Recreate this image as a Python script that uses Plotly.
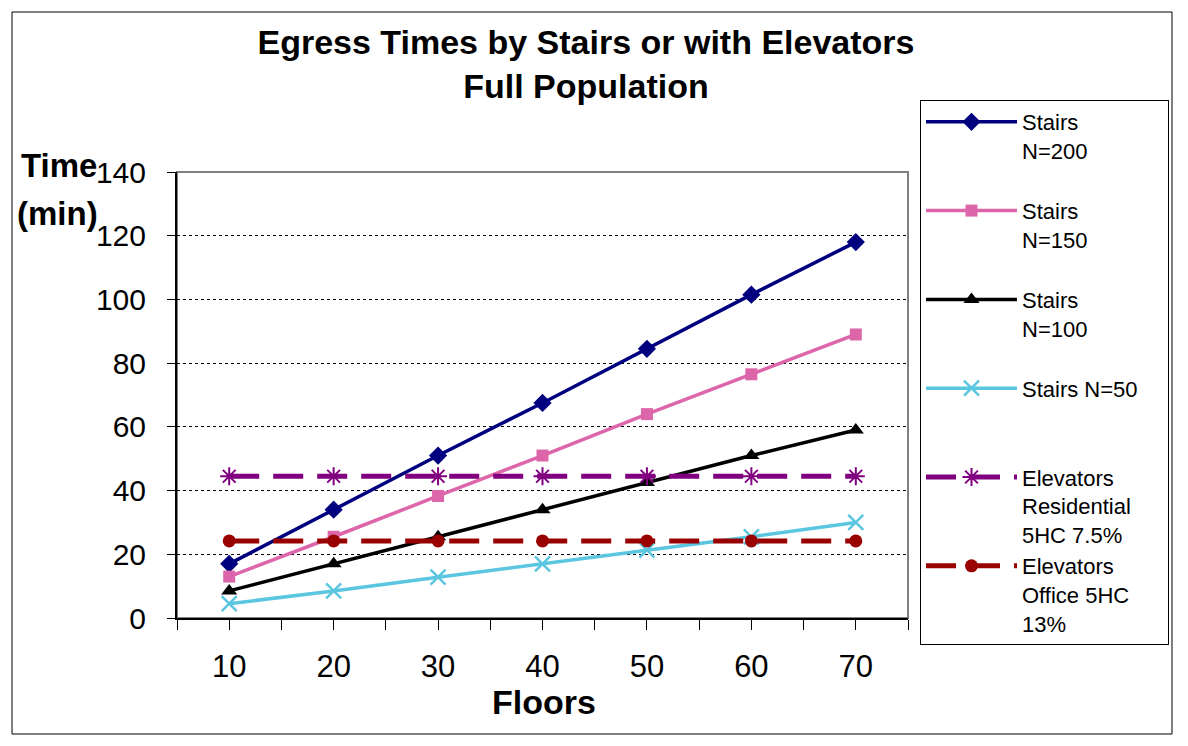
import plotly.graph_objects as go

floors = [10, 20, 30, 40, 50, 60, 70]
stairs_200 = [17, 34, 51, 67.5, 84.5, 101.5, 118]
stairs_150 = [13, 25.5, 38.3, 51, 64, 76.5, 89]
stairs_100 = [8.5, 17, 25.5, 34, 42.5, 51, 59]
stairs_50 = [4.5, 8.5, 12.8, 17, 21.3, 25.5, 30]
elev_res = [44.5, 44.5, 44.5, 44.5, 44.5, 44.5, 44.5]
elev_off = [24.2, 24.2, 24.2, 24.2, 24.2, 24.2, 24.2]
y_ticks = [0, 20, 40, 60, 80, 100, 120, 140]

FONT = "Arial, Liberation Sans, sans-serif"

# page body has an 8px margin; figure is sized/positioned to compensate
W, H = 1180, 738
OFF = 8

series = [
    ("Stairs<br>N=200<br> ", stairs_200, "#00007F", "solid", 3.5, "diamond", 14, None),
    ("Stairs<br>N=150<br> ", stairs_150, "#DD66AA", "solid", 3.5, "square", 12, None),
    ("Stairs<br>N=100<br> ", stairs_100, "#000000", "solid", 3.5, "triangle-up", 14, None),
    ("Stairs N=50&nbsp;&nbsp;&nbsp;&nbsp;<br> <br> ", stairs_50, "#5BC6E0", "solid", 3.5, "x-thin", 15, 2.5),
    ("Elevators<br>Residential<br>5HC 7.5%", elev_res, "#800080", "30px,14px", 5, "asterisk", 15, 2),
    ("Elevators<br>Office 5HC<br>13%", elev_off, "#990000", "30px,14px", 5, "circle", 13, None),
]

fig = go.Figure()
for i, (name, vals, col, dash, lw, sym, ms, mlw) in enumerate(series):
    marker = dict(symbol=sym, size=ms, color=col)
    if mlw:
        marker["line"] = dict(color=col, width=mlw)
    fig.add_trace(go.Scatter(
        x=floors, y=vals, name=name, mode="lines+markers",
        line=dict(color=col, width=lw, dash=dash),
        marker=marker, legendgroup=f"g{i}",
    ))

fig.update_layout(
    width=W, height=H,
    margin=dict(l=177 - OFF, r=W - (908 - OFF), t=172 - OFF, b=H - (618 - OFF)),
    paper_bgcolor="white", plot_bgcolor="white",
    font=dict(family=FONT, color="black"),
    title=dict(
        text="<b>Egress Times by Stairs or with Elevators<br>Full Population</b>",
        x=(586 - OFF) / W, xanchor="center", y=1 - 46 / H, yanchor="middle",
        font=dict(size=34, family=FONT, color="black"),
    ),
    showlegend=True,
    legend=dict(
        x=(920 - 177) / 731, xanchor="left",
        y=(618 - 100) / 446, yanchor="top",
        bordercolor="black", borderwidth=1, bgcolor="white",
        font=dict(size=22, family=FONT, color="black"),
        valign="top", itemwidth=91, tracegroupgap=0,
        traceorder="normal", maxheight=700,
    ),
    xaxis=dict(
        range=[5, 75], tickmode="array", tickvals=floors,
        ticktext=[str(f) for f in floors],
        ticks="outside", ticklen=10, tickwidth=1, tickcolor="black",
        showline=True, linecolor="black", linewidth=2,
        showgrid=False, zeroline=False, ticklabelstandoff=10,
        tickfont=dict(size=31, family=FONT, color="black"),
        minor=dict(tickvals=[5, 15, 25, 35, 45, 55, 65, 75], ticks="outside",
                   ticklen=10, tickwidth=1, tickcolor="black", showgrid=False),
    ),
    yaxis=dict(
        range=[0, 140], tickmode="array", tickvals=y_ticks,
        ticks="outside", ticklen=8, tickwidth=1, tickcolor="black",
        showline=True, linecolor="black", linewidth=2,
        showgrid=True, gridcolor="black", gridwidth=1, griddash="dot",
        zeroline=False, ticklabelstandoff=15,
        tickfont=dict(size=30, family=FONT, color="black"),
    ),
)

# plot-area frame (gray) and outer chart border
fig.add_shape(type="rect", xref="paper", yref="paper", x0=0, x1=1, y0=0, y1=1,
              line=dict(color="#808080", width=2), layer="below")
fig.add_shape(type="rect", xref="paper", yref="paper",
              x0=(12 - 177) / 731, x1=(1172 - 177) / 731,
              y0=(618 - 734) / 446, y1=(618 - 12) / 446,
              line=dict(color="black", width=1), layer="below")

fig.add_annotation(text="<b>Time</b>", xref="paper", yref="paper",
                   x=(59 - 177) / 731, y=(618 - 166) / 446, showarrow=False,
                   xanchor="center", yanchor="middle",
                   font=dict(size=33, family=FONT, color="black"))
fig.add_annotation(text="<b>(min)</b>", xref="paper", yref="paper",
                   x=(57 - 177) / 731, y=(618 - 213) / 446, showarrow=False,
                   xanchor="center", yanchor="middle",
                   font=dict(size=33, family=FONT, color="black"))
fig.add_annotation(text="<b>Floors</b>", xref="paper", yref="paper",
                   x=(544 - 177) / 731, y=(618 - 702) / 446, showarrow=False,
                   xanchor="center", yanchor="middle",
                   font=dict(size=34, family=FONT, color="black"))

fig.write_html("out.html")
